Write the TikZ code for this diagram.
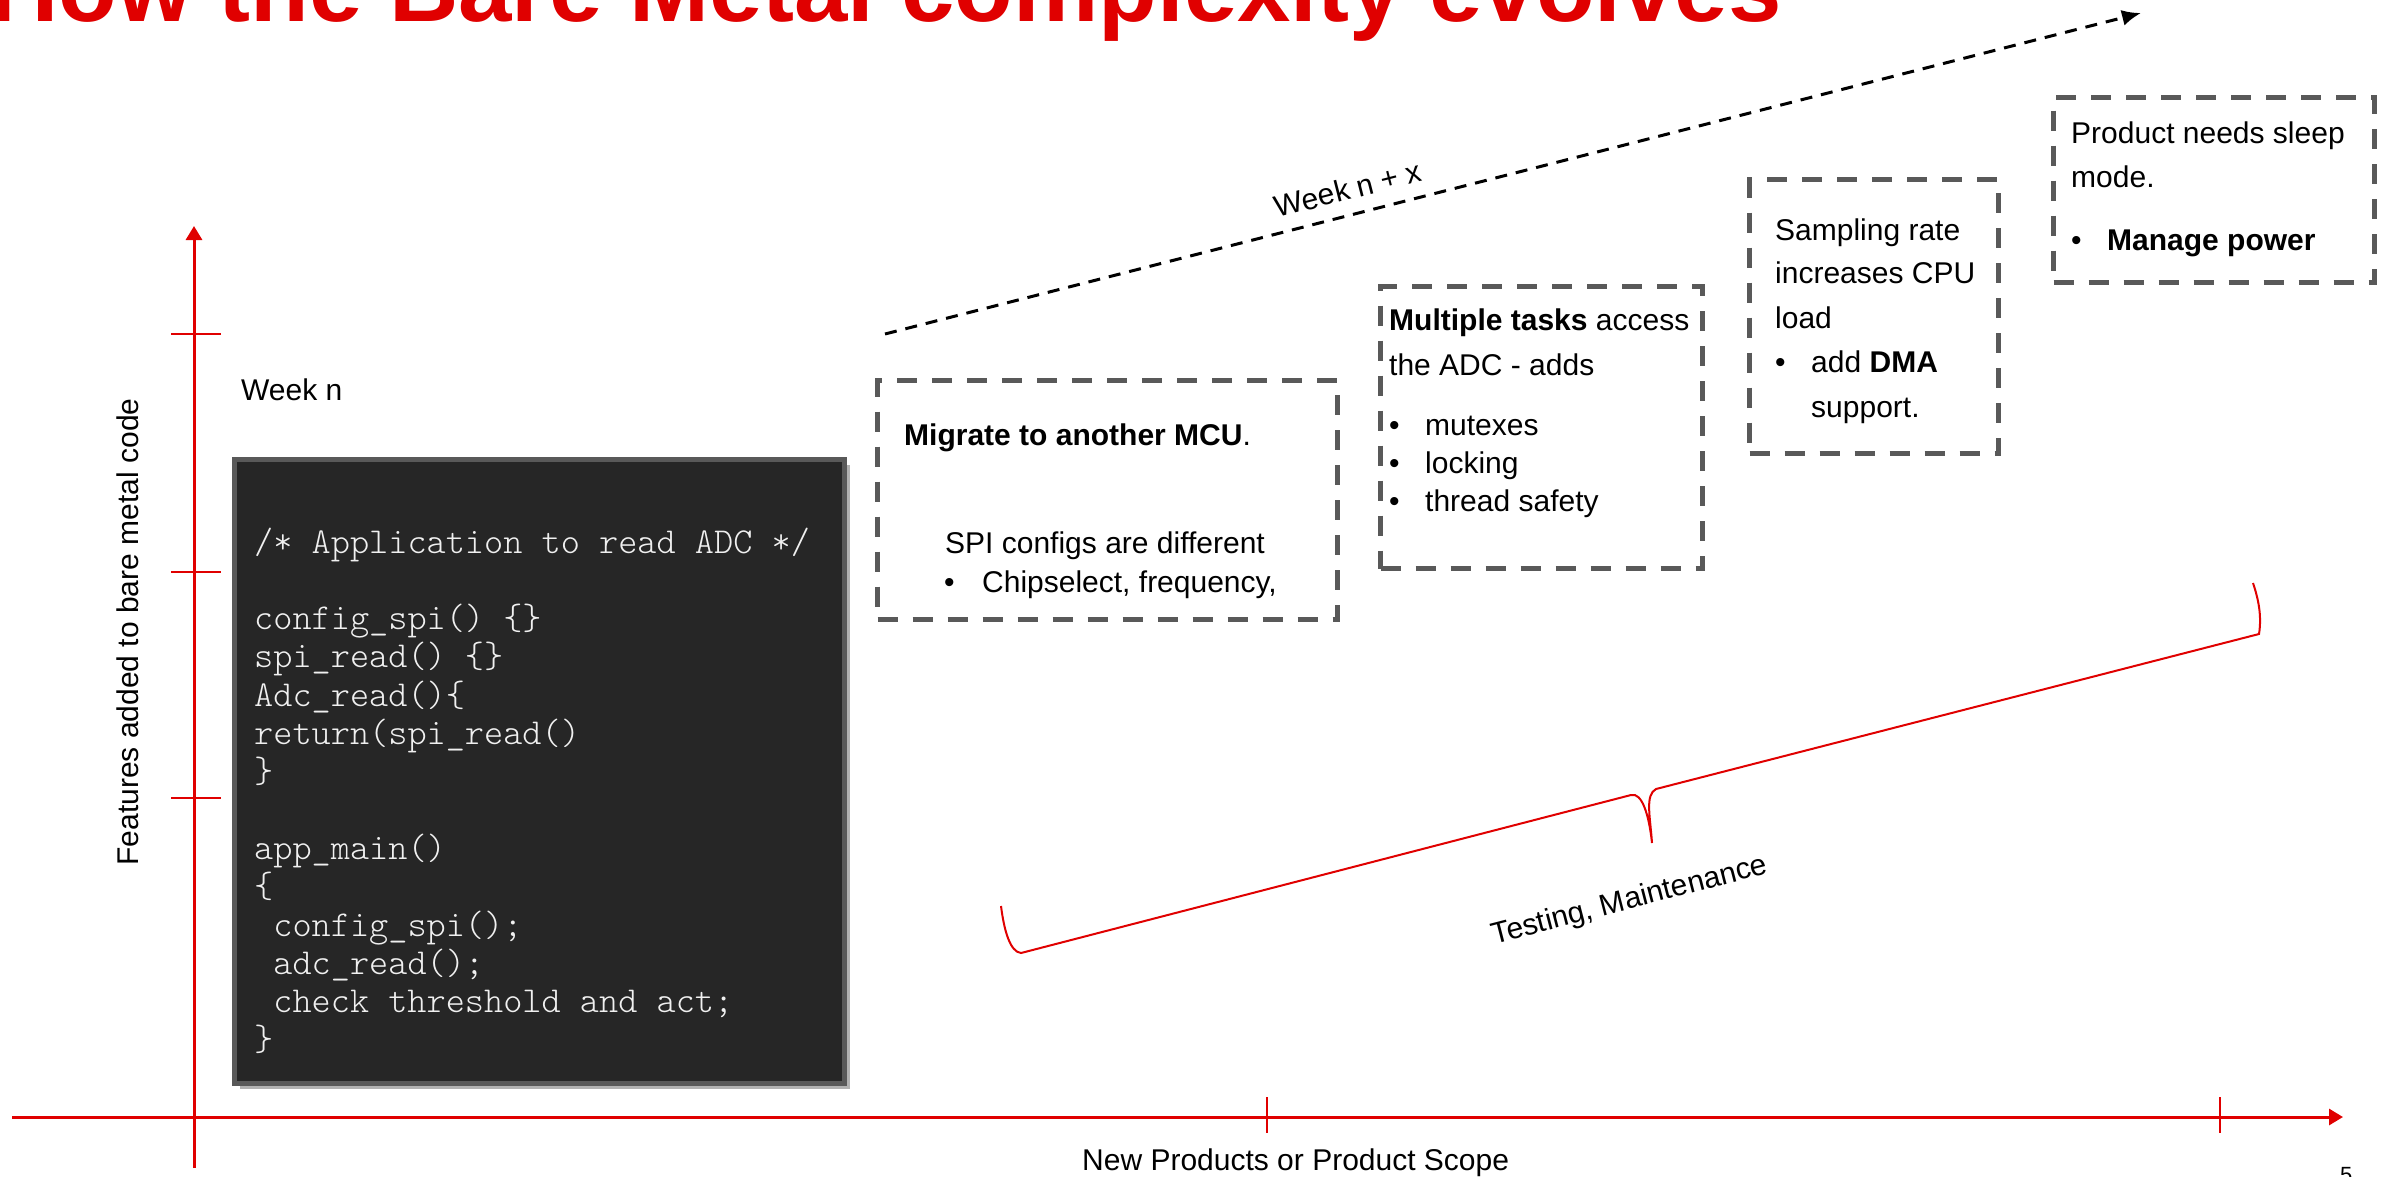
\documentclass[tikz,border=0pt]{standalone}
\usepackage{fontspec}
\setmainfont{Liberation Sans}
\newfontfamily\codefont{lmmonolt10-regular.otf}
\usetikzlibrary{arrows.meta,shadows}
\definecolor{tred}{HTML}{E00000}
\definecolor{dgray}{HTML}{595959}
\definecolor{codebg}{HTML}{262626}
\definecolor{codefg}{HTML}{F0F0F0}
\begin{document}
\begin{tikzpicture}[x=1pt,y=-1pt,
 txt/.style={anchor=base west, inner sep=0pt, font=\fontsize{30}{36}\selectfont},
 lbl/.style={inner sep=0pt, font=\fontsize{30}{36}\selectfont},
 dbox/.style={draw=dgray, line width=5pt, dash pattern=on 20pt off 15pt, rectangle, inner sep=0pt, outer sep=0pt},
 axisline/.style={draw=tred, line width=3pt, -{Triangle[length=14pt,width=16pt]}},
 tickline/.style={draw=tred, line width=2pt},
]
\useasboundingbox (0,0) rectangle (2397,1176);

% title
\node[anchor=base west, inner sep=0pt, text=tred, font=\bfseries\fontsize{96}{110}\selectfont] (title) at (-11,21) {How the Bare Metal complexity evolves};

% axes
\coordinate (yb) at (194,1168);
\coordinate (yt) at (194,226);
\coordinate (xl) at (12,1117);
\coordinate (xr) at (2343,1117);
\draw[axisline] (yb) -- (yt);
\draw[axisline] (xl) -- (xr);
\coordinate (t1a) at (171,334); \coordinate (t1b) at (221,334);
\coordinate (t2a) at (171,572); \coordinate (t2b) at (221,572);
\coordinate (t3a) at (171,798); \coordinate (t3b) at (221,798);
\coordinate (t4a) at (1267,1097); \coordinate (t4b) at (1267,1133);
\coordinate (t5a) at (2220,1097); \coordinate (t5b) at (2220,1133);
\draw[tickline] (t1a) -- (t1b);
\draw[tickline] (t2a) -- (t2b);
\draw[tickline] (t3a) -- (t3b);
\draw[tickline] (t4a) -- (t4b);
\draw[tickline] (t5a) -- (t5b);

\node[lbl, anchor=base, rotate=90] (ylabel) at (138,632) {Features added to bare metal code};
\node[txt] (xlabel) at (1082,1170) {New Products or Product Scope};
\node[anchor=base west, inner sep=0pt, font=\fontsize{22}{26}\selectfont] (pagenum) at (2340,1182) {5};

\node[txt] (weekn) at (241,400) {Week n};

% code box
\node[draw=dgray, fill=codebg, line width=5pt, rectangle, inner sep=0pt, outer sep=0pt,
      minimum width=610pt, minimum height=624pt,
      drop shadow={shadow xshift=5pt, shadow yshift=-5pt, fill=black, opacity=0.3}] (codebox) at (539.5,771.5) {};
\node[anchor=base west, inner sep=0pt, text=codefg, font=\codefont\fontsize{36.5}{38.3}\selectfont] (code) at (254,553) {%
\begin{tabular}[t]{@{}l@{}}
/* Application to read ADC */\\
\mbox{}\\
config\_spi() \{\}\\
spi\_read() \{\}\\
Adc\_read()\{\\
return(spi\_read()\\
\}\\
\mbox{}\\
app\_main()\\
\{\\
\ config\_spi();\\
\ adc\_read();\\
\ check threshold and act;\\
\}
\end{tabular}};

% week n + x arrow
\coordinate (wa) at (885,334);
\coordinate (wb) at (2141,13);
\draw[black, line width=3pt, dash pattern=on 12pt off 9pt, -{Latex[length=19pt,width=16pt]}] (wa) -- (wb);
\node[lbl, rotate=14.3] (wlabel) at (1348,189) {Week n + x};

% dashed boxes
\node[dbox, minimum width=460pt, minimum height=239pt] (box1) at (1107.5,500) {};
\node[dbox, minimum width=322pt, minimum height=282pt] (box2) at (1541.5,427.5) {};
\node[dbox, minimum width=249pt, minimum height=274pt] (box3) at (1874,316.5) {};
\node[dbox, minimum width=321pt, minimum height=185pt] (box4) at (2214,190) {};

% box 1 text
\node[txt] (b1a) at (904,445) {\textbf{Migrate to another MCU}.};
\node[txt] (b1b) at (945,553) {SPI configs are different};
\node[txt] (b1c) at (944,592) {\makebox[38pt][l]{•}Chipselect, frequency,};

% box 2 text
\node[txt] (b2a) at (1389,330) {\textbf{Multiple tasks} access};
\node[txt] (b2b) at (1389,375) {the ADC - adds};
\node[txt] (b2c) at (1389,435) {\makebox[36pt][l]{•}mutexes};
\node[txt] (b2d) at (1389,473) {\makebox[36pt][l]{•}locking};
\node[txt] (b2e) at (1389,511) {\makebox[36pt][l]{•}thread safety};

% box 3 text
\node[txt] (b3a) at (1775,240) {Sampling rate};
\node[txt] (b3b) at (1775,283) {increases CPU};
\node[txt] (b3c) at (1775,328) {load};
\node[txt] (b3d) at (1775,372) {\makebox[36pt][l]{•}add \textbf{DMA}};
\node[txt] (b3e) at (1811,417) {support.};

% box 4 text
\node[txt] (b4a) at (2071,143) {Product needs sleep};
\node[txt] (b4b) at (2071,187) {mode.};
\node[txt] (b4c) at (2071,250) {\makebox[36pt][l]{•}\textbf{Manage power}};

% brace
\draw[tred, line width=2pt, line join=miter] (1001,906) .. controls (1004,930) and (1010,952) .. (1021,953)
  -- (1631,795) .. controls (1642,792) and (1649,815) .. (1652,843)
  .. controls (1650,815) and (1645,795) .. (1656,789)
  -- (2259,634) .. controls (2262,615) and (2258,598) .. (2253,583);
\node[lbl, rotate=14.5] (testing) at (1630,901) {Testing, Maintenance};
\end{tikzpicture}
\end{document}
